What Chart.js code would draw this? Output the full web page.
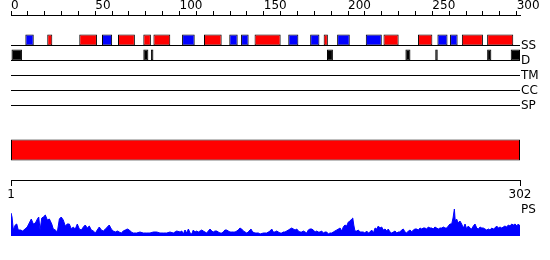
<!DOCTYPE html>
<html>
<head>
<meta charset="utf-8">
<script src="https://cdn.jsdelivr.net/npm/chart.js@4"></script>
<style>
  body { margin: 0; background: #fff; }
</style>
</head>
<body>
<canvas id="myChart" width="550" height="260"></canvas>
<script>
const seqLength = 302;
const rulerLabels = [0, 50, 100, 150, 200, 250, 300];
const trackNames = ['SS', 'D', 'TM', 'CC', 'SP'];

// secondary structure (red = helix, blue = strand), residue ranges
const helixStart = [21.5, 40.5, 63.5, 78.5, 84.5, 114.5, 144.5, 185.5, 221, 241.5, 267.5, 282.5];
const helixEnd   = [24.5, 51, 73.5, 83, 94.5, 125, 160, 188, 230, 250, 280, 298];
const strandStart = [8.5, 54, 101.5, 129.5, 136.5, 164.5, 177.5, 193.5, 210.5, 253, 260.5];
const strandEnd   = [13.5, 60, 109, 134.5, 141, 170.5, 183, 201, 220, 259, 265];

// disorder
const disorderStart = [0, 78.5, 83, 187.5, 234, 251.7, 282.5, 296.5];
const disorderEnd   = [6.5, 81.5, 84.5, 191, 237, 253.2, 285, 302];

// domain bar
const domainStart = [1];
const domainEnd = [302];

// PS profile
const psPos = [
  1, 1.6, 2.4, 3.5, 4.4, 5.3, 6.7, 7.9, 9.3, 10.6,
  11.8, 13.0, 14.2, 15.4, 16.6, 17.4, 18.2, 19.2, 20.1, 21.3,
  22.5, 23.7, 25.1, 26.0, 27.2, 28.4, 29.6, 30.7, 31.9, 33.1,
  34.3, 35.5, 36.7, 37.8, 39.0, 40.2, 41.4, 42.6, 43.8, 44.9,
  46.1, 47.3, 48.5, 49.7, 50.9, 52.0, 53.2, 54.4, 55.6, 56.8,
  58.0, 59.1, 60.3, 61.5, 62.7, 63.9, 65.0, 66.2, 67.4, 68.6,
  69.8, 71.0, 72.1, 73.3, 75.3, 77.3, 79.2, 81.3, 83.2, 85.2,
  87.2, 89.1, 91.1, 93.1, 95.0, 97.0, 99.0,
  101.0, 102.0, 102.9, 103.9, 104.9, 105.9, 106.9, 107.9, 108.8, 109.8,
  110.8, 111.8, 112.8, 113.8, 114.7, 115.7, 116.7, 117.7, 118.7, 119.7,
  120.6, 121.6, 122.6, 123.6, 124.6, 125.6, 126.5, 127.5, 128.5, 129.5,
  130.5, 131.5, 132.5, 133.5, 134.5, 135.4, 136.4, 137.4, 138.4, 139.4,
  140.4, 141.3, 142.3, 142.9, 143.9, 145.3, 146.3, 147.3, 148.3, 150.2,
  152.2, 153.2, 154.2, 155.2, 156.1, 157.1, 158.1, 159.1, 160.1, 161.1,
  162.0, 163.0, 164.0, 165.0, 166.0, 167.0, 168.0, 169.0, 170.0, 170.9,
  171.9, 172.9, 173.9, 174.9, 175.9, 176.8, 177.8, 178.8, 179.8, 180.8,
  181.8, 182.7, 183.7, 184.7, 185.7, 186.7, 187.7, 188.6, 189.6, 190.6,
  191.6, 192.6, 193.6, 194.6, 195.6, 196.6, 197.5, 198.5, 199.5, 200.5,
  201.5, 202.5, 203.1, 203.7, 204.4, 205.4, 206.4, 207.4,
  209.3, 210.3, 211.3, 212.3, 213.3, 214.3, 215.3, 216.3, 217.3, 218.2,
  219.2, 220.2, 221.2, 222.2, 223.2, 224.1, 225.1, 226.1, 227.1, 228.1,
  229.1, 230.0, 231.0, 232.0, 233.0, 234.0, 235.0, 236.0, 237.0, 238.0,
  238.9, 239.9, 240.9, 241.9, 242.9, 243.9, 244.8, 245.8, 246.8, 247.8,
  248.8, 249.8, 250.7, 251.7, 252.7, 253.7, 254.7, 255.7, 256.7, 257.7,
  258.7, 259.6, 260.6, 261.6, 262.4, 263.2, 263.7, 264.5, 265.5, 266.5,
  267.5, 268.5, 269.5, 270.5, 271.4, 272.4, 273.4, 274.4, 275.4, 276.4,
  277.4, 278.4, 279.4, 280.3, 281.3, 282.3, 283.3, 284.3, 285.3, 286.2,
  287.2, 288.2, 289.2, 290.2, 291.2, 292.1, 293.1, 294.1, 295.1, 296.1,
  297.1, 298.1, 299.1, 300.1, 301.0, 302.0
];
const psVal = [
  23, 19, 6, 11, 12, 6, 6, 5, 7, 9,
  13, 17, 12, 13, 17, 19, 6, 18, 19, 21,
  16, 17, 12, 7, 6, 4, 17, 19, 16, 10,
  12, 12, 7, 9, 7, 12, 7, 6, 9, 11,
  8, 10, 6, 5, 3, 6, 9, 6, 5, 7,
  9, 11, 7, 5, 4, 5, 4, 3, 5, 6,
  7, 6, 4, 3, 3, 4, 3, 3, 3, 4,
  4, 3, 3, 3, 4, 3, 5,
  4, 5, 2, 6, 3, 7, 3, 2, 6, 4,
  5, 4, 5, 6, 5, 4, 3, 5, 7, 5,
  4, 5, 5, 4, 3, 3, 4, 6, 6, 5,
  4, 4, 4, 4, 5, 6, 8, 7, 5, 4,
  3, 4, 6, 7, 4, 3, 3, 3, 2, 3,
  3, 4, 5, 7, 4, 4, 5, 4, 3, 3,
  4, 4, 5, 6, 7, 8, 7, 6, 7, 5,
  4, 4, 5, 4, 3, 6, 7, 7, 6, 4,
  5, 4, 4, 5, 3, 4, 4, 2, 3, 3,
  4, 5, 6, 7, 8, 5, 9, 11, 10, 14,
  15, 17, 18, 11, 5, 5, 6, 4,
  4, 3, 5, 3, 4, 6, 3, 8, 7, 10,
  8, 9, 6, 7, 5, 7, 4, 3, 4, 5,
  3, 4, 4, 6, 7, 4, 3, 5, 6, 4,
  6, 7, 7, 6, 8, 7, 8, 8, 7, 9,
  8, 8, 7, 9, 8, 7, 8, 8, 9, 8,
  8, 10, 12, 12, 18, 27, 15, 17, 13, 15,
  12, 8, 12, 7, 10, 8, 7, 10, 12, 8,
  7, 9, 8, 8, 7, 6, 7, 6, 8, 7,
  8, 10, 8, 9, 8, 9, 10, 9, 11, 10,
  12, 11, 12, 10, 12, 10
];

// vertical layout (pixel rows on the track scale)
const topRulerY = 15;
const trackY = [45.5, 60.5, 75.5, 90.5, 105.5];
const domainY = 160.5;
const rulerY = 180;
const psLabelY = 210;

Chart.defaults.font.family = 'DejaVu Sans';
Chart.defaults.font.size = 12;
Chart.defaults.color = '#000';

const ctx = document.getElementById('myChart');

function boxSet(starts, ends, y, color, thickness, xId) {
    return {
        type: 'bar',
        indexAxis: 'y',
        xAxisID: xId,
        yAxisID: 'y',
        stack: 'boxes',
        data: starts.map(function(s, i) {
            return { x: [s, ends[i]], y: y };
        }),
        backgroundColor: color,
        borderColor: '#000',
        borderWidth: 1,
        borderSkipped: false,
        inflateAmount: 0,
        barThickness: thickness,
        order: 1
    };
}

// the line datasets sit on hidden copies of the two rulers
const trackLines = trackY.map(function(y) {
    return {
        type: 'line',
        indexAxis: 'x',
        xAxisID: 'xL',
        yAxisID: 'y',
        data: [{ x: 0, y: y }, { x: seqLength, y: y }],
        borderColor: '#000',
        borderWidth: 1,
        pointRadius: 0,
        order: 3
    };
});

const psArea = {
    type: 'line',
    indexAxis: 'x',
    xAxisID: 'xPS',
    yAxisID: 'yPS',
    data: psPos.map(function(p, i) {
        return { x: p, y: psVal[i] };
    }),
    borderColor: '#0000ff',
    backgroundColor: '#0000ff',
    borderWidth: 1,
    pointRadius: 0,
    fill: 'origin',
    order: 2
};

new Chart(ctx, {
    type: 'line',
    data: {
        datasets: trackLines.concat([
            boxSet(helixStart, helixEnd, trackY[0], '#ff0000', 11, 'x'),
            boxSet(strandStart, strandEnd, trackY[0], '#0000ff', 11, 'x'),
            boxSet(disorderStart, disorderEnd, trackY[1], '#000000', 11, 'x'),
            boxSet(domainStart, domainEnd, domainY, '#ff0000', 21, 'x2'),
            psArea
        ])
    },
    options: {
        indexAxis: 'y',
        responsive: false,
        animation: false,
        layout: { padding: { left: 11, right: 0, top: 0, bottom: 0 } },
        plugins: {
            legend: { display: false },
            tooltip: { enabled: false }
        },
        scales: {
            x: {
                type: 'linear',
                position: { y: topRulerY },
                min: 0,
                max: seqLength,
                offset: false,
                stacked: false,
                afterBuildTicks: function(scale) {
                    const ticks = [];
                    for (let v = 0; v <= rulerLabels[rulerLabels.length - 1]; v += 10) {
                        ticks.push({ value: v });
                    }
                    scale.ticks = ticks;
                },
                afterFit: function(scale) { scale.paddingLeft = 0; scale.paddingRight = 0; },
                ticks: {
                    autoSkip: false,
                    maxRotation: 0,
                    align: 'start',
                    padding: -10,
                    font: { size: 12, lineHeight: 1 },
                    callback: function(v) {
                        return rulerLabels.includes(v) ? String(v) : '';
                    }
                },
                grid: { drawOnChartArea: false, tickLength: -5, tickColor: '#000' },
                border: { color: '#000' }
            },
            xL: {
                type: 'linear',
                display: false,
                min: 0,
                max: seqLength,
                offset: false
            },
            x2: {
                type: 'linear',
                position: { y: rulerY },
                min: domainStart[0],
                max: domainEnd[0],
                offset: false,
                stacked: false,
                afterBuildTicks: function(scale) {
                    scale.ticks = [{ value: domainStart[0] }, { value: domainEnd[0] }];
                },
                afterFit: function(scale) { scale.paddingLeft = 0; scale.paddingRight = 0; },
                ticks: { autoSkip: false, maxRotation: 0, padding: 3 },
                grid: { drawOnChartArea: false, tickLength: 5, tickColor: '#000' },
                border: { color: '#000' }
            },
            xPS: {
                type: 'linear',
                display: false,
                min: domainStart[0],
                max: domainEnd[0],
                offset: false
            },
            y: {
                type: 'linear',
                display: false,
                min: 0,
                max: 260,
                reverse: true,
                offset: false,
                grid: { offset: false }
            },
            yPS: {
                type: 'linear',
                display: false,
                min: -24,
                max: 236
            },
            yR: {
                type: 'linear',
                position: 'right',
                min: 0,
                max: 260,
                reverse: true,
                afterBuildTicks: function(scale) {
                    scale.ticks = trackY.concat([psLabelY]).map(function(v) {
                        return { value: v };
                    });
                },
                afterFit: function(scale) {
                    scale.width = 30;
                    scale.paddingTop = 0;
                    scale.paddingBottom = 0;
                },
                ticks: {
                    autoSkip: false,
                    padding: 1,
                    callback: function(v, i) {
                        return trackNames.concat(['PS'])[i];
                    }
                },
                grid: { display: false, drawTicks: false },
                border: { display: false }
            }
        }
    }
});
</script>
</body>
</html>
